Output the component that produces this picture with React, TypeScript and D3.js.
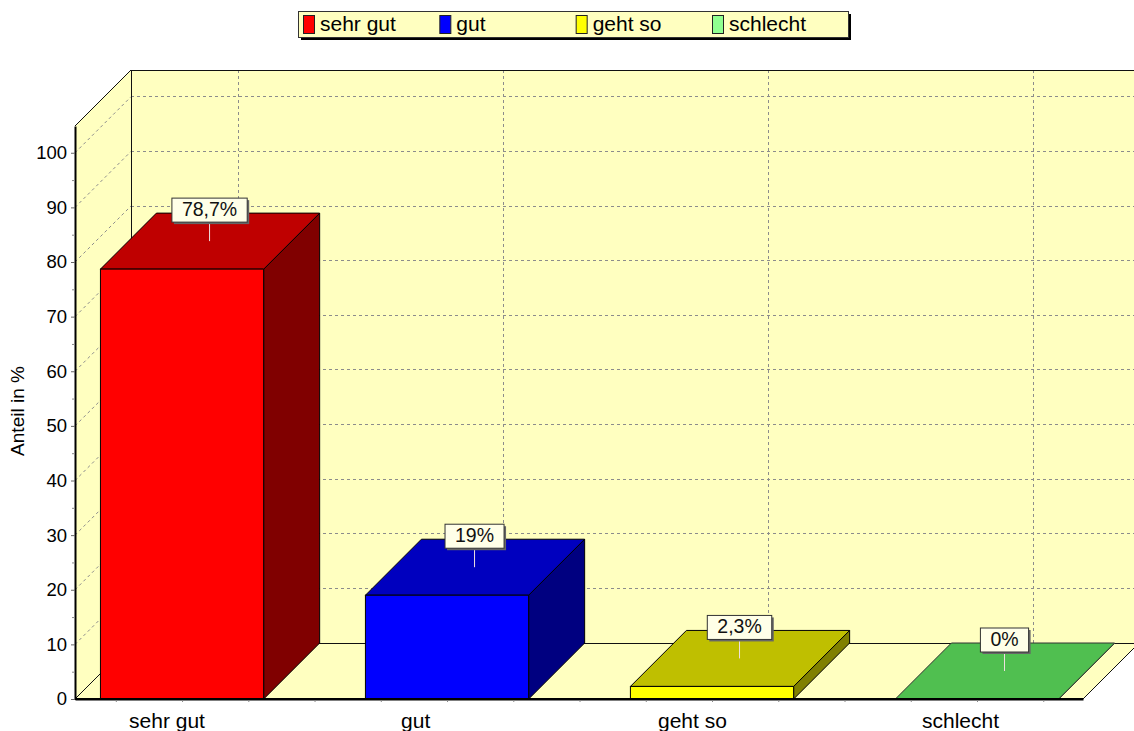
import React, { useEffect, useRef } from "react";
import * as d3 from "d3";

const categories = ["sehr gut", "gut", "geht so", "schlecht"];
const percentValues = [78.7, 19, 2.3, 0];
const valueLabels = ["78,7%", "19%", "2,3%", "0%"];
const barColors = ["#ff0000", "#0000ff", "#ffff00", "#6aff6a"];
const legendColors = ["#ff0000", "#0000ff", "#ffff00", "#90ff90"];
const majorTicks = [0, 10, 20, 30, 40, 50, 60, 70, 80, 90, 100];
const minorTicks = [5, 15, 25, 35, 45, 55, 65, 75, 85, 95];
const xTicks = [-0.25, 0, 0.25, 0.5, 0.75, 1, 1.25, 1.5, 1.75, 2, 2.25, 2.5, 2.75, 3, 3.25];
// the labels sit left of the bars in the original
const labelOffsets = [-53, -46, -54, -55];

const width = 1134;
const height = 731;
const depthX = 56;
const depthY = 56;
const wallColor = "#ffffc0";
const font = "'Liberation Sans', Arial, sans-serif";

export default function App() {
  const chartRef = useRef<SVGSVGElement>(null);

  useEffect(() => {
    drawChart();
  }, []);

  const drawChart = () => {
    const svg = d3.select(chartRef.current);
    svg.selectAll("*").remove();

    const x = d3.scaleLinear().domain([-0.404, 3.4]).range([75, 1083]);
    const y = d3.scaleLinear().domain([0, 104.9]).range([699, 126]);
    const barHalf = 0.308;
    const line = d3.line();
    const poly = (pts: [number, number][]) => line(pts) + "Z";

    const x0 = x.range()[0];
    const x1 = x.range()[1];
    const yBase = y.range()[0];
    const yTop = y.range()[1];

    // walls and floor
    svg
      .append("path")
      .attr("d", poly([[x0 + depthX, yTop - depthY], [x1 + depthX, yTop - depthY], [x1 + depthX, yBase - depthY], [x0 + depthX, yBase - depthY]]))
      .attr("fill", wallColor);
    svg
      .append("path")
      .attr("d", poly([[x0, yTop], [x0 + depthX, yTop - depthY], [x0 + depthX, yBase - depthY], [x0, yBase]]))
      .attr("fill", wallColor);
    svg
      .append("path")
      .attr("d", poly([[x0, yBase], [x0 + depthX, yBase - depthY], [x1 + depthX, yBase - depthY], [x1, yBase]]))
      .attr("fill", wallColor);

    // grid
    const grid = svg.append("g").attr("stroke", "#8c8c8c").attr("stroke-dasharray", "3,3").attr("fill", "none");
    majorTicks.filter((d) => d > 0).forEach((d) => {
      grid.append("path").attr("shape-rendering", "crispEdges").attr("d", line([[x0 + depthX, y(d) - depthY], [x1 + depthX, y(d) - depthY]]));
      grid.append("path").attr("d", line([[x0, y(d)], [x0 + depthX, y(d) - depthY]]));
    });
    categories.forEach((_, i) => {
      grid.append("path").attr("shape-rendering", "crispEdges").attr("d", line([[x(i) + depthX, yTop - depthY], [x(i) + depthX, yBase - depthY]]));
    });

    // wall edges
    const edges = svg.append("g").attr("stroke", "#111").attr("fill", "none");
    edges.append("path").attr("d", line([[x0, yTop], [x0 + depthX, yTop - depthY]]));
    edges.append("path").attr("shape-rendering", "crispEdges").attr("d", line([[x0 + depthX, yTop - depthY], [x1 + depthX, yTop - depthY]]));
    edges.append("path").attr("shape-rendering", "crispEdges").attr("d", line([[x0 + depthX, yTop - depthY], [x0 + depthX, yBase - depthY], [x1 + depthX, yBase - depthY]]));
    edges.append("path").attr("d", line([[x0, yBase], [x0 + depthX, yBase - depthY]]));
    edges.append("path").attr("d", line([[x1, yBase], [x1 + depthX, yBase - depthY]]));

    // axes
    const yAxis = svg
      .append("g")
      .attr("transform", `translate(${x0},0)`)
      .call(d3.axisLeft(y).tickValues(majorTicks).tickSize(4).tickSizeOuter(0).tickPadding(4));
    yAxis.select(".domain").attr("stroke", "#000").attr("stroke-width", 2);
    yAxis.selectAll("text").attr("font-family", font).attr("font-size", 18.5).attr("fill", "#000");
    yAxis.selectAll("line").attr("stroke", "#666");
    const yMinor = svg
      .append("g")
      .attr("transform", `translate(${x0},0)`)
      .call(d3.axisLeft(y).tickValues(minorTicks).tickSize(3).tickSizeOuter(0).tickFormat(() => ""));
    yMinor.select(".domain").remove();
    yMinor.selectAll("line").attr("stroke", "#888");

    const xAxis = svg
      .append("g")
      .attr("transform", `translate(0,${yBase})`)
      .call(d3.axisBottom(x).tickValues(xTicks).tickSize(3).tickSizeOuter(0).tickFormat(() => ""));
    xAxis.select(".domain").attr("stroke", "#000").attr("stroke-width", 2);
    xAxis.selectAll("line").attr("stroke", "#888");

    // bars
    percentValues.forEach((v, i) => {
      const left = x(i - barHalf);
      const right = x(i + barHalf);
      const top = y(v);
      const base = d3.color(barColors[i])!;
      const stroke = v > 0 ? "#000" : "#333";
      const shade = (k: number) => {
        const c = d3.rgb(base);
        return d3.rgb(c.r * k, c.g * k, c.b * k).formatHex();
      };
      const g = svg.append("g").attr("stroke", stroke).attr("stroke-linejoin", "round");
      g.append("path")
        .attr("d", poly([[right, top], [right + depthX, top - depthY], [right + depthX, yBase - depthY], [right, yBase]]))
        .attr("fill", shade(0.5));
      g.append("path")
        .attr("d", poly([[left, top], [left + depthX, top - depthY], [right + depthX, top - depthY], [right, top]]))
        .attr("fill", shade(0.75));
      if (v > 0) {
        g.append("path").attr("d", poly([[left, top], [right, top], [right, yBase], [left, yBase]])).attr("fill", base.formatHex());
      }
    });

    // axis line goes over the bars' feet
    svg.append("path").attr("d", line([[x0, yBase], [x1, yBase]])).attr("stroke", "#000").attr("stroke-width", 2);

    // value labels
    valueLabels.forEach((label, i) => {
      const cx = x(i) + depthX / 2 - 0.5;
      const stemEnd = y(percentValues[i]) - depthY / 2;
      const boxBottom = stemEnd - 19;
      const g = svg.append("g");
      g.append("line")
        .attr("x1", cx)
        .attr("x2", cx)
        .attr("y1", stemEnd)
        .attr("y2", boxBottom)
        .attr("stroke", "#eee0e0");
      const text = g
        .append("text")
        .attr("x", cx)
        .attr("y", boxBottom - 6)
        .attr("text-anchor", "middle")
        .attr("font-family", font)
        .attr("font-size", 19.5)
        .attr("fill", "#111")
        .text(label);
      const w = (text.node() as SVGTextElement).getComputedTextLength() + 20;
      const boxH = 24;
      g.insert("rect", "text")
        .attr("x", cx - w / 2 + 2)
        .attr("y", boxBottom - boxH + 2)
        .attr("width", w)
        .attr("height", boxH)
        .attr("fill", "#666");
      g.insert("rect", "text")
        .attr("x", cx - w / 2)
        .attr("y", boxBottom - boxH)
        .attr("width", w)
        .attr("height", boxH)
        .attr("fill", "#ffffe8")
        .attr("stroke", "#333");
    });

    // category labels, cut off by the bottom of the picture as in the original
    categories.forEach((c, i) => {
      svg
        .append("text")
        .attr("x", x(i) + labelOffsets[i])
        .attr("y", 728)
        .attr("font-family", font)
        .attr("font-size", 21)
        .attr("fill", "#000")
        .text(c);
    });

    // y title
    svg
      .append("text")
      .attr("transform", "translate(24,411) rotate(-90)")
      .attr("text-anchor", "middle")
      .attr("font-family", font)
      .attr("font-size", 19)
      .attr("fill", "#000")
      .text("Anteil in %");

    // legend
    const legend = svg.append("g");
    legend.append("rect").attr("x", 301).attr("y", 14).attr("width", 550).attr("height", 26).attr("fill", "#000");
    legend.append("rect").attr("x", 298.5).attr("y", 11.5).attr("width", 550).attr("height", 26).attr("fill", wallColor).attr("stroke", "#333");
    const legendX = d3.scaleLinear().domain([0, 3]).range([303, 712]);
    categories.forEach((c, i) => {
      legend
        .append("rect")
        .attr("x", legendX(i) + 0.5)
        .attr("y", 15.5)
        .attr("width", 11)
        .attr("height", 18)
        .attr("fill", legendColors[i])
        .attr("stroke", "#222");
      legend
        .append("text")
        .attr("x", legendX(i) + 17)
        .attr("y", 31)
        .attr("font-family", font)
        .attr("font-size", 21)
        .attr("fill", "#000")
        .text(c);
    });
  };

  return (
    <svg
      ref={chartRef}
      width={width}
      height={height}
      style={{ position: "fixed", left: 0, top: 0, background: "#fff" }}
    ></svg>
  );
}
